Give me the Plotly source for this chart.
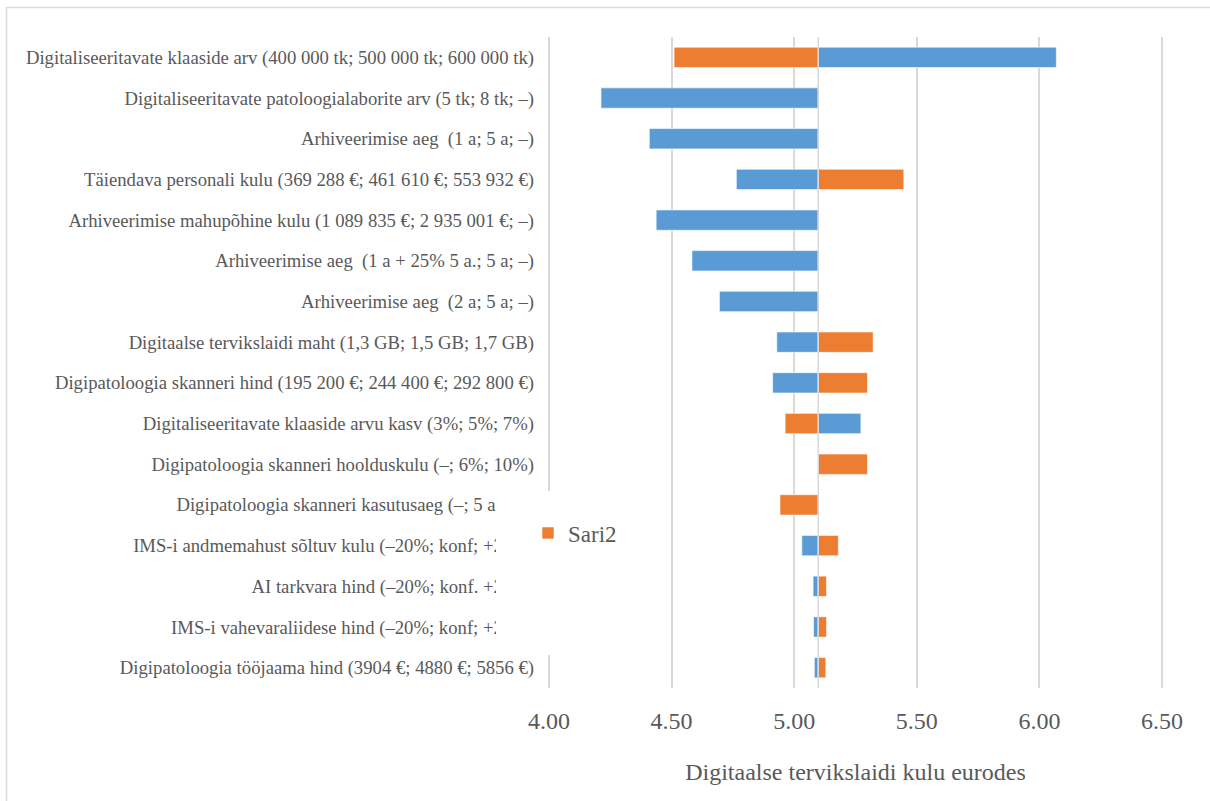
import plotly.graph_objects as go

# ---------------- data ----------------
labels = [
    "Digitaliseeritavate klaaside arv (400 000 tk; 500 000 tk; 600 000 tk)",
    "Digitaliseeritavate patoloogialaborite arv (5 tk; 8 tk; –)",
    "Arhiveerimise aeg\u00a0 (1 a; 5 a; –)",
    "Täiendava personali kulu (369 288 €; 461 610 €; 553 932 €)",
    "Arhiveerimise mahupõhine kulu (1 089 835 €; 2 935 001 €; –)",
    "Arhiveerimise aeg\u00a0 (1 a + 25% 5 a.; 5 a; –)",
    "Arhiveerimise aeg\u00a0 (2 a; 5 a; –)",
    "Digitaalse tervikslaidi maht (1,3 GB; 1,5 GB; 1,7 GB)",
    "Digipatoloogia skanneri hind (195 200 €; 244 400 €; 292 800 €)",
    "Digitaliseeritavate klaaside arvu kasv (3%; 5%; 7%)",
    "Digipatoloogia skanneri hoolduskulu (–; 6%; 10%)",
    "Digipatoloogia skanneri kasutusaeg (–; 5 a; 7 a)",
    "IMS-i andmemahust sõltuv kulu (–20%; konf; +20%)",
    "AI tarkvara hind (–20%; konf. +20%)",
    "IMS-i vahevaraliidese hind (–20%; konf; +20%)",
    "Digipatoloogia tööjaama hind (3904 €; 4880 €; 5856 €)",
]
sari1 = [6.069, 4.212, 4.409, 4.764, 4.437, 4.583, 4.695, 4.929, 4.912, 5.272,
         None, None, 5.031, 5.077, 5.079, 5.082]
sari2 = [4.510, None, None, 5.447, None, None, None, 5.322, 5.299, 4.963,
         5.299, 4.942, 5.180, 5.132, 5.132, 5.129]
BASE = 5.098
series_names = ["Sari1", "Sari2"]
x_min, x_max = 4.0, 6.5
x_ticks = [4.0, 4.5, 5.0, 5.5, 6.0, 6.5]
x_title = "Digitaalse tervikslaidi kulu eurodes"

# ---------------- layout geometry ----------------
W, H = 1210, 801
EDGE = 2  # px of padding so edge gridlines are kept
L, R, T, B = 549 - EDGE, 48 - EDGE, 37, 113
PW, PH = W - L - R, H - T - B
unit_px = (PW - 2 * EDGE) / (x_max - x_min)
pad = EDGE / unit_px


def px(xp):
    return (xp - L) / PW


def py(yp):
    return (T + PH - yp) / PH


GRAY_TXT = "#595959"
GRID = "#d9d9d9"
FONT = "Liberation Serif, 'Times New Roman', serif"


def delta(vals):
    return [None if v is None else v - BASE for v in vals]


fig = go.Figure()
fig.add_trace(go.Bar(
    y=labels, x=delta(sari1), base=BASE, orientation="h", name=series_names[0],
    marker=dict(color="#5B9BD5", line=dict(color="rgba(255,255,255,0.6)", width=1)),
    width=0.5, showlegend=False,
))
fig.add_trace(go.Bar(
    y=labels, x=delta(sari2), base=BASE, orientation="h", name=series_names[1],
    marker=dict(color="#ED7D31", line=dict(color="rgba(255,255,255,0.6)", width=1)),
    width=0.5, showlegend=True,
))

shapes = [
    # vertical axis line at base value
    dict(type="line", xref="x", yref="paper", x0=BASE, x1=BASE, y0=0, y1=1,
         line=dict(color=GRID, width=1.5), layer="above"),
    # white legend box covering part of labels
    dict(type="rect", xref="paper", yref="paper",
         x0=px(496), x1=px(640), y0=py(655), y1=py(491),
         fillcolor="white", line=dict(width=0), layer="above"),
    # chart border (top and left)
    dict(type="line", xref="paper", yref="paper",
         x0=px(6.5), x1=px(1215), y0=py(7.5), y1=py(7.5),
         line=dict(color=GRID, width=1.5), layer="above"),
    dict(type="line", xref="paper", yref="paper",
         x0=px(6.5), x1=px(6.5), y0=py(7.5), y1=py(810),
         line=dict(color=GRID, width=1.5), layer="above"),
]

fig.update_layout(
    width=W, height=H,
    margin=dict(l=L, r=R, t=T, b=B, pad=0),
    paper_bgcolor="white", plot_bgcolor="white",
    barmode="overlay",
    font=dict(family=FONT, color=GRAY_TXT),
    showlegend=True,
    legend=dict(x=px(528), xanchor="left", y=py(533), yanchor="middle",
                bgcolor="rgba(0,0,0,0)", font=dict(size=23, color=GRAY_TXT, family=FONT),
                itemwidth=30),
    shapes=shapes,
    xaxis=dict(
        range=[x_min - pad, x_max + pad], tickvals=x_ticks, tickformat=".2f",
        showgrid=True, gridcolor=GRID, gridwidth=1.5,
        zeroline=False, showline=False, ticks="",
        tickfont=dict(size=24, color=GRAY_TXT, family=FONT),
        ticklabelstandoff=16,
        title=dict(text=x_title, font=dict(size=24, color=GRAY_TXT, family=FONT), standoff=30),
    ),
    yaxis=dict(
        autorange="reversed", type="category",
        showgrid=False, zeroline=False, showline=False, ticks="",
        tickfont=dict(size=18.7, color=GRAY_TXT, family=FONT),
        ticklabelstandoff=10 + EDGE,
    ),
)

fig.write_html("out.html")
